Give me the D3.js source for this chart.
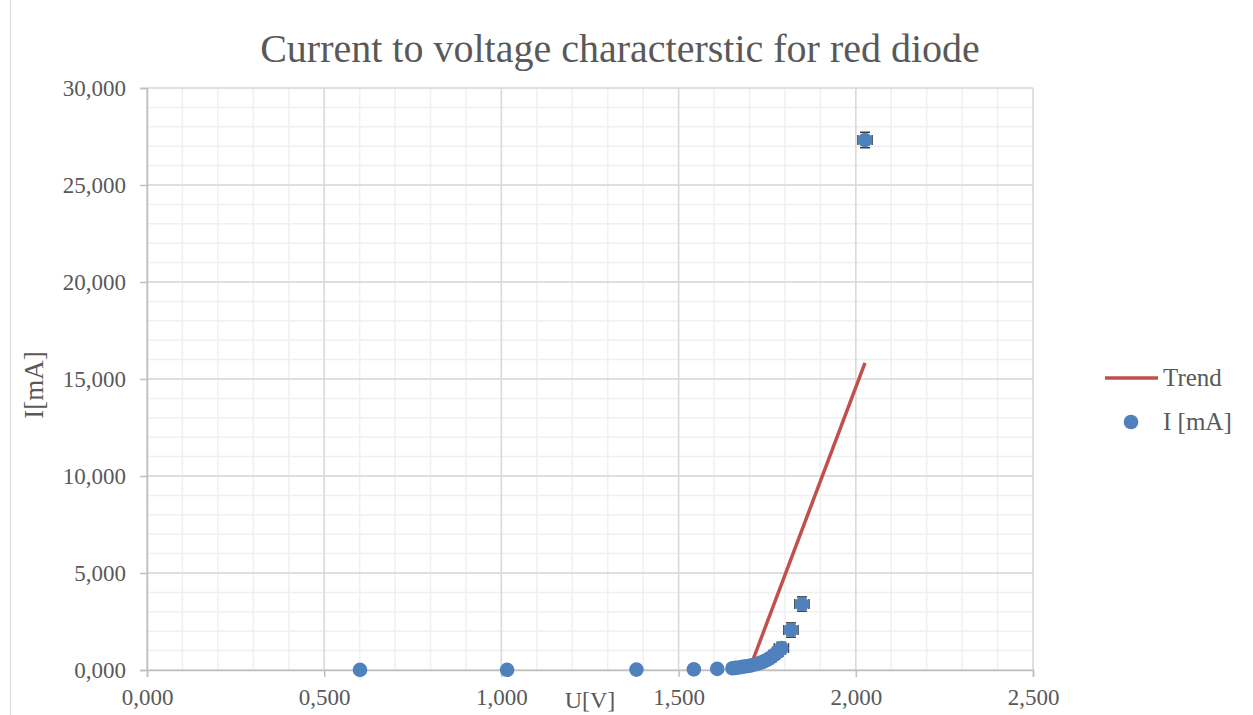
<!DOCTYPE html>
<html><head><meta charset="utf-8">
<script src="https://cdn.jsdelivr.net/npm/d3@7"></script>
<style>body{margin:0;background:#fff}svg{display:block}text{font-family:"Liberation Serif","DejaVu Serif",serif}</style>
</head><body><svg id="c" width="1253" height="715"></svg>
<script>
const titleText = "Current to voltage characterstic for red diode";
const voltage = [0.601,1.016,1.381,1.543,1.609,1.652,1.66,1.67,1.68,1.69,1.70,1.71,1.72,1.73,1.74,1.75,1.76,1.77,1.78,1.79,1.817,1.848,2.026];
const current = [5,10,20,30,60,90,110,130,160,190,220,260,310,370,440,530,640,780,940,1130,2060,3400,27320];
const errU = [0,0,0,0,0,0,0.01,0.01,0.01,0.01,0.01,0.01,0.01,0.01,0.01,0.015,0.015,0.015,0.015,0.02,0.02,0.02,0.02];
const errI = [0,0,0,0,0,0,50,60,70,80,90,100,120,140,160,180,200,230,260,300,370,370,400];
const trendU = [1.699, 2.026];
const trendI = [0, 15830];
const xTicks = [0,0.5,1.0,1.5,2.0,2.5];
const yTicks = [0,5000,10000,15000,20000,25000,30000];
const legendNames = ["Trend","I [mA]"];

const svg = d3.select("#c");
const L=147,R=1033,T=88,B=670;
const x = d3.scaleLinear().domain([0,2.5]).range([L,R]);
const y = d3.scaleLinear().domain([0,30000]).range([B,T]);
const fmt = v => d3.format(",.3f")(v).replace(".",",");
const grey="#595959";

// outer border
svg.append("line").attr("x1",10.5).attr("x2",10.5).attr("y1",0).attr("y2",715).attr("stroke","#d9d9d9");

// minor grid
const g = svg.append("g");
d3.range(0,2.5001,0.1).forEach(v=>g.append("line").attr("x1",x(v)).attr("x2",x(v)).attr("y1",T).attr("y2",B).attr("stroke","#f0f0f0").attr("stroke-width",1.5));
d3.range(0,30001,1000).forEach(v=>g.append("line").attr("x1",L).attr("x2",R).attr("y1",y(v)).attr("y2",y(v)).attr("stroke","#f0f0f0").attr("stroke-width",1.5));
// major grid
xTicks.forEach(v=>g.append("line").attr("x1",x(v)).attr("x2",x(v)).attr("y1",T).attr("y2",B).attr("stroke","#d9d9d9").attr("stroke-width",1.5));
yTicks.forEach(v=>g.append("line").attr("x1",L).attr("x2",R).attr("y1",y(v)).attr("y2",y(v)).attr("stroke","#d9d9d9").attr("stroke-width",1.5));

// axes
const xa = svg.append("g").attr("transform",`translate(0,${B})`).call(d3.axisBottom(x).tickValues(xTicks).tickFormat(fmt).tickSize(7).tickPadding(12));
const ya = svg.append("g").attr("transform",`translate(${L},0)`).call(d3.axisLeft(y).tickValues(yTicks).tickFormat(d=> d===0?"0,000":d3.format(",")(d)).tickSize(7).tickPadding(14));
[xa,ya].forEach(a=>{a.selectAll("path,line").attr("stroke","#bfbfbf").attr("stroke-width",1.5);
 a.selectAll("text").attr("fill",grey).style("font-size","23px").style("font-family","Liberation Serif");});

// trend
svg.append("path").datum(trendU.map((u,i)=>[u,trendI[i]]))
 .attr("d",d3.line().x(d=>x(d[0])).y(d=>y(d[1]))).attr("stroke","#c0504d").attr("stroke-width",3.5).attr("fill","none");

// error bars
const eb = svg.append("g").attr("stroke","#404040").attr("stroke-width",1.5);
voltage.forEach((u,i)=>{
  const cx=x(u), cy=y(current[i]);
  if(errI[i]>0){
    const y1=y(current[i]+errI[i]), y2=y(Math.max(0,current[i]-errI[i]));
    eb.append("line").attr("x1",cx).attr("x2",cx).attr("y1",y1).attr("y2",y2);
    eb.append("line").attr("x1",cx-5).attr("x2",cx+5).attr("y1",y1).attr("y2",y1);
    eb.append("line").attr("x1",cx-5).attr("x2",cx+5).attr("y1",y2).attr("y2",y2);
  }
  if(errU[i]>0){
    const x1=x(u-errU[i]), x2=x(u+errU[i]);
    eb.append("line").attr("x1",x1).attr("x2",x2).attr("y1",cy).attr("y2",cy);
    eb.append("line").attr("x1",x1).attr("x2",x1).attr("y1",cy-5).attr("y2",cy+5);
    eb.append("line").attr("x1",x2).attr("x2",x2).attr("y1",cy-5).attr("y2",cy+5);
  }
});
// points
svg.append("g").selectAll("circle").data(voltage).join("circle")
 .attr("cx",d=>x(d)).attr("cy",(d,i)=>y(current[i])).attr("r",7.3).attr("fill","#4f81bd");

// title
svg.append("text").attr("x",620).attr("y",62).attr("text-anchor","middle").attr("fill",grey)
 .style("font-size","40px").text(titleText);
// axis titles
svg.append("text").attr("x",590).attr("y",708).attr("text-anchor","middle").attr("fill",grey).style("font-size","24px").text("U[V]");
svg.append("text").attr("transform","translate(43,385) rotate(-90)").attr("text-anchor","middle").attr("fill",grey).style("font-size","27px").text("I[mA]");

// legend
const lg = svg.append("g");
lg.append("line").attr("x1",1105).attr("x2",1158).attr("y1",378).attr("y2",378).attr("stroke","#c0504d").attr("stroke-width",3.5);
lg.append("circle").attr("cx",1131).attr("cy",422).attr("r",7.3).attr("fill","#4f81bd");
lg.selectAll("text.l").data(legendNames).join("text").attr("x",1163).attr("y",(d,i)=>386+i*44)
 .attr("fill",grey).style("font-size","25px").text(d=>d);
</script></body></html>
